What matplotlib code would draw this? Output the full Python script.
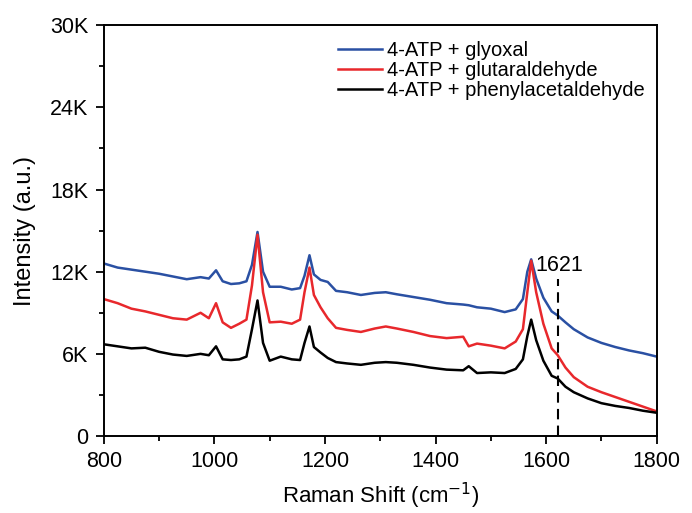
import numpy as np
from matplotlib import pyplot as plt
from matplotlib.ticker import MultipleLocator, FuncFormatter

plt.rcParams['font.family'] = ['Liberation Sans', 'DejaVu Sans']

# Raman shift (cm-1), shared by the three spectra
shift = [800, 825, 850, 875, 900, 925, 950, 975, 990, 1003, 1015, 1030, 1045, 1058,
         1068, 1078, 1088, 1100, 1120, 1140, 1155, 1163, 1172, 1180, 1192, 1205,
         1220, 1240, 1265, 1290, 1310, 1330, 1360, 1390, 1420, 1450, 1460, 1475,
         1500, 1525, 1545, 1558, 1566, 1573, 1582, 1595, 1610, 1621, 1635, 1650,
         1675, 1700, 1725, 1750, 1775, 1800]

# intensities in thousands
glyoxal = [12.6, 12.3, 12.15, 12.0, 11.85, 11.65, 11.45, 11.6, 11.5, 12.1, 11.3, 11.1,
           11.15, 11.3, 12.5, 14.9, 12.0, 10.9, 10.9, 10.7, 10.8, 11.7, 13.2, 11.8,
           11.4, 11.25, 10.6, 10.5, 10.3, 10.45, 10.5, 10.35, 10.15, 9.95, 9.7, 9.6,
           9.55, 9.4, 9.3, 9.05, 9.25, 10.0, 12.0, 12.9, 11.5, 10.1, 9.1, 8.8, 8.3,
           7.8, 7.2, 6.8, 6.5, 6.25, 6.05, 5.8]
glutaraldehyde = [10.0, 9.7, 9.3, 9.1, 8.85, 8.6, 8.5, 9.0, 8.6, 9.7, 8.3, 7.9, 8.2, 8.5,
                  11.0, 14.7, 10.5, 8.3, 8.35, 8.2, 8.5, 10.5, 12.3, 10.3, 9.4, 8.6,
                  7.9, 7.75, 7.6, 7.85, 8.0, 7.85, 7.6, 7.3, 7.15, 7.25, 6.55, 6.75,
                  6.6, 6.4, 6.9, 7.8, 10.5, 12.8, 10.5, 8.2, 6.4, 5.9, 5.0, 4.3, 3.6,
                  3.2, 2.85, 2.5, 2.15, 1.8]
phenylacetaldehyde = [6.7, 6.55, 6.4, 6.45, 6.15, 5.95, 5.85, 6.0, 5.9, 6.55, 5.6, 5.55,
                      5.6, 5.8, 7.8, 9.9, 6.8, 5.5, 5.8, 5.6, 5.55, 6.8, 8.0, 6.5, 6.1,
                      5.7, 5.4, 5.3, 5.2, 5.35, 5.4, 5.35, 5.2, 5.0, 4.85, 4.8, 5.1,
                      4.6, 4.65, 4.6, 4.9, 5.6, 7.3, 8.5, 7.0, 5.5, 4.4, 4.2, 3.6, 3.2,
                      2.75, 2.4, 2.2, 2.05, 1.85, 1.7]

labels = ['4-ATP + glyoxal', '4-ATP + glutaraldehyde', '4-ATP + phenylacetaldehyde']
colors = ['#2a50a3', '#e8282c', '#000000']
marker_shift = 1621

fig = plt.figure(figsize=(6.92, 5.13), dpi=100)
ax = fig.add_axes([0.150, 0.150, 0.799, 0.801])

x = np.array(shift)
for ys, lab, col in zip([glyoxal, glutaraldehyde, phenylacetaldehyde], labels, colors):
    ax.plot(x, np.array(ys) * 1000, color=col, lw=1.8, label=lab)

ax.plot([marker_shift, marker_shift], [0, 11500], color='black', lw=1.5, ls=(0, (5, 3)))
ax.text(marker_shift + 3, 12050, str(marker_shift), ha='center', va='baseline', fontsize=15.5)

ax.set_xlim(800, 1800)
ax.set_ylim(0, 30000)
ax.xaxis.set_major_locator(MultipleLocator(200))
ax.xaxis.set_minor_locator(MultipleLocator(100))
ax.yaxis.set_major_locator(MultipleLocator(6000))
ax.yaxis.set_minor_locator(MultipleLocator(3000))
ax.yaxis.set_major_formatter(FuncFormatter(lambda v, p: '0' if v == 0 else '%dK' % (v / 1000)))
ax.tick_params(which='both', direction='out', width=1.3, labelsize=15.5, pad=5)
ax.tick_params(which='major', length=6)
ax.tick_params(which='minor', length=3.5)
for s in ax.spines.values():
    s.set_linewidth(1.4)

ax.set_xlabel('Raman Shift (cm$^{-1}$)', fontsize=16, labelpad=6)
ax.set_ylabel('Intensity (a.u.)', fontsize=17, labelpad=10)

ax.legend(loc='upper left', bbox_to_anchor=(0.423, 0.962), frameon=False, fontsize=14.5,
          handlelength=2.2, handletextpad=0.25, labelspacing=0.06,
          borderaxespad=0, borderpad=0)

fig.savefig('out.png', dpi=100)
